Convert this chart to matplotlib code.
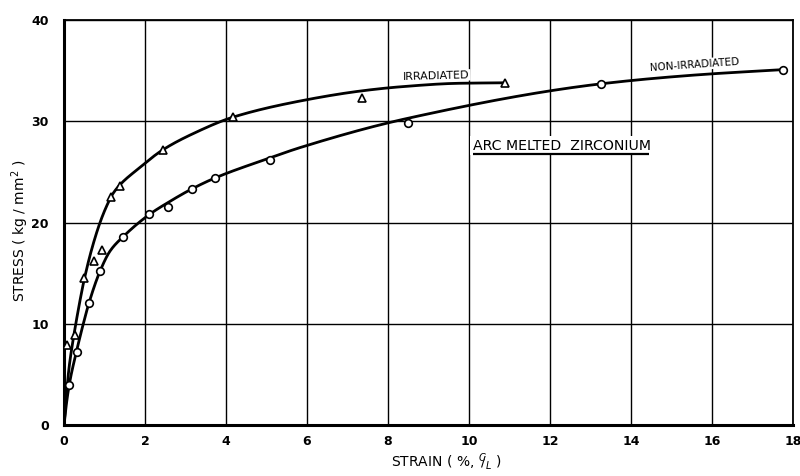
import numpy as np
import matplotlib
matplotlib.use("Agg")
import matplotlib.pyplot as plt

# Data points
irr_x = [0.08, 0.27, 0.49, 0.75, 0.95, 1.16, 1.38, 2.45, 4.17, 7.35, 10.89]
irr_y = [7.9, 8.9, 14.5, 16.2, 17.3, 22.5, 23.6, 27.2, 30.4, 32.3, 33.8]

non_x = [0.13, 0.33, 0.62, 0.89, 1.46, 2.11, 2.58, 3.15, 3.73, 5.1, 8.5, 13.27, 17.76]
non_y = [4.0, 7.2, 12.1, 15.2, 18.6, 20.8, 21.5, 23.3, 24.4, 26.2, 29.8, 33.7, 35.1]

# Hand-drawn fitted curves (knots)
irr_curve_x = [0, 0.05, 0.12, 0.2, 0.3, 0.4, 0.49, 0.68, 0.89, 1.05, 1.2, 1.4, 1.8, 2.45,
               3.2, 4.17, 5.83, 7.35, 8.3, 9.75, 10.89]
irr_curve_y = [0, 2.5, 5.5, 7.8, 10.2, 12.4, 14.2, 17.3, 20.0, 21.6, 22.8, 23.8, 25.2, 27.2,
               28.8, 30.4, 32.0, 33.0, 33.4, 33.75, 33.8]

non_curve_x = [0, 0.05, 0.13, 0.31, 0.47, 0.62, 0.89, 1.14, 1.46, 2.11, 2.58, 3.15, 3.73,
               5.1, 5.83, 8.5, 13.27, 15.7, 17.76]
non_curve_y = [0, 1.8, 4.0, 7.3, 9.9, 12.1, 15.2, 17.2, 18.6, 20.8, 22.0, 23.3, 24.4,
               26.4, 27.4, 30.3, 33.7, 34.6, 35.1]

x_ticks = [0, 2, 4, 6, 8, 10, 12, 14, 16, 18]
y_ticks = [0, 10, 20, 30, 40]


def pchip(xk, yk, xs):
    xk = np.asarray(xk, float)
    yk = np.asarray(yk, float)
    h = np.diff(xk)
    d = np.diff(yk) / h
    n = len(xk)
    m = np.zeros(n)
    for i in range(1, n - 1):
        if d[i - 1] * d[i] <= 0:
            m[i] = 0
        else:
            w1 = 2 * h[i] + h[i - 1]
            w2 = h[i] + 2 * h[i - 1]
            m[i] = (w1 + w2) / (w1 / d[i - 1] + w2 / d[i])
    m[0] = d[0]
    m[-1] = d[-1]
    idx = np.clip(np.searchsorted(xk, xs) - 1, 0, n - 2)
    t = (xs - xk[idx]) / h[idx]
    h00 = 2 * t**3 - 3 * t**2 + 1
    h10 = t**3 - 2 * t**2 + t
    h01 = -2 * t**3 + 3 * t**2
    h11 = t**3 - t**2
    return (h00 * yk[idx] + h10 * h[idx] * m[idx] + h01 * yk[idx + 1] + h11 * h[idx] * m[idx + 1])


fig = plt.figure(figsize=(8, 4.76), dpi=100)
ax = fig.add_axes([0.08, 0.107, 0.911, 0.851])

ax.set_xlim(0, 18)
ax.set_ylim(0, 40)
ax.set_xticks(x_ticks)
ax.set_yticks(y_ticks)
ax.grid(True, color="black", linewidth=1.0)
ax.set_axisbelow(True)
ax.tick_params(length=0, labelsize=9)
ax.tick_params(axis="x", pad=7)
ax.tick_params(axis="y", pad=11)
for lab in ax.get_xticklabels() + ax.get_yticklabels():
    lab.set_fontweight("bold")

for s in ["left", "bottom"]:
    ax.spines[s].set_linewidth(2.2)
for s in ["top", "right"]:
    ax.spines[s].set_linewidth(1.3)

xs = np.linspace(0, irr_curve_x[-1], 1200)
ax.plot(xs, pchip(irr_curve_x, irr_curve_y, xs), color="black", lw=2.0, zorder=3)
xs2 = np.linspace(0, non_curve_x[-1], 1500)
ax.plot(xs2, pchip(non_curve_x, non_curve_y, xs2), color="black", lw=2.0, zorder=3)

ax.plot(irr_x, irr_y, linestyle="none", marker="^", markersize=5.5,
        markerfacecolor="white", markeredgecolor="black", markeredgewidth=1.2, zorder=4)
ax.plot(non_x, non_y, linestyle="none", marker="o", markersize=5.5,
        markerfacecolor="white", markeredgecolor="black", markeredgewidth=1.2, zorder=4)

ax.text(9.2, 34.5, "IRRADIATED", fontsize=8, ha="center", va="center", rotation=1.5,
        bbox=dict(facecolor="white", edgecolor="none", pad=0.5), zorder=5)
ax.text(15.58, 35.6, "NON-IRRADIATED", fontsize=7.5, ha="center", va="center", rotation=4,
        bbox=dict(facecolor="white", edgecolor="none", pad=0.5), zorder=5)
ax.text(12.3, 27.6, "ARC MELTED  ZIRCONIUM", fontsize=10.2, ha="center", va="center",
        bbox=dict(facecolor="white", edgecolor="none", pad=2), zorder=5)
ax.plot([10.1, 14.45], [26.8, 26.8], color="black", lw=1.6, zorder=6, solid_capstyle="butt")

ax.set_ylabel(r"STRESS ( kg / mm$^{2}$ )", fontsize=10)
ax.yaxis.set_label_coords(-0.045, 0.48)
ax.set_xlabel(r"STRAIN ( %, $^{C}\!\!/_{L}$ )", fontsize=10)
ax.xaxis.set_label_coords(0.525, -0.065)

fig.savefig("out.png", dpi=100)
